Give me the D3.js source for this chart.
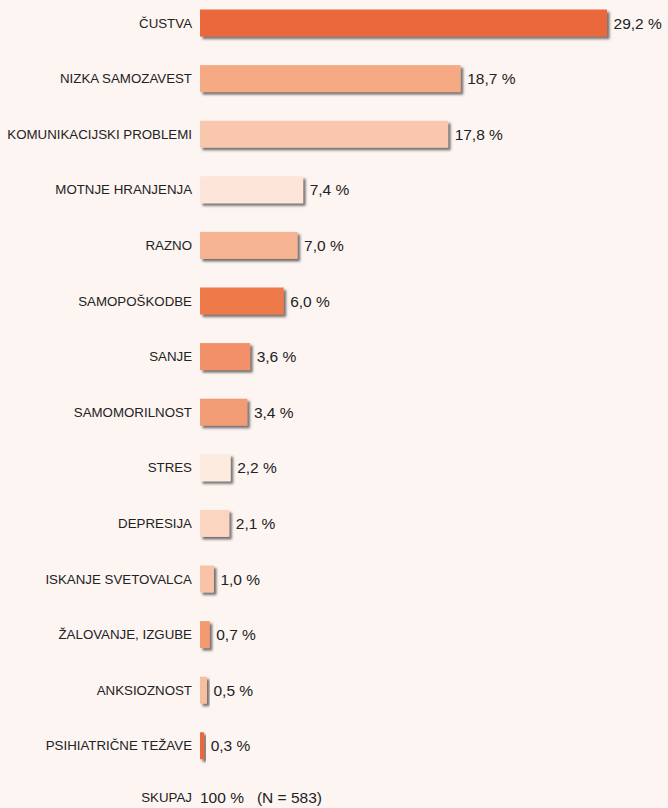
<!DOCTYPE html>
<html>
<head>
<meta charset="utf-8">
<script src="https://cdn.jsdelivr.net/npm/d3@7"></script>
<style>
  html, body { margin: 0; padding: 0; background: #fdf5f2; }
  svg { display: block; }
  text { font-family: "Liberation Sans", Arial, Helvetica, sans-serif; fill: #222; }
</style>
</head>
<body>
<svg id="chart" width="668" height="808"></svg>
<script>
// Razlogi za klic (deleži v %)
const categories = [
  "ČUSTVA", "NIZKA SAMOZAVEST", "KOMUNIKACIJSKI PROBLEMI", "MOTNJE HRANJENJA",
  "RAZNO", "SAMOPOŠKODBE", "SANJE", "SAMOMORILNOST", "STRES", "DEPRESIJA",
  "ISKANJE SVETOVALCA", "ŽALOVANJE, IZGUBE", "ANKSIOZNOST", "PSIHIATRIČNE TEŽAVE"
];
const values = [29.2, 18.7, 17.8, 7.4, 7.0, 6.0, 3.6, 3.4, 2.2, 2.1, 1.0, 0.7, 0.5, 0.3];
const colors = [
  "#eb673c", "#f5aa84", "#f9c7ae", "#fde5d9", "#f6b392", "#ee7a4a", "#f2906a",
  "#f29c76", "#fdebe0", "#fbd5c0", "#f9c3a7", "#f39a70", "#f8bf9f", "#eb673c"
];
const totalLabel = "SKUPAJ";
const totalValue = "100 %";
const totalN = "(N = 583)";

const svg = d3.select("#chart");

const defs = svg.append("defs");
const shadow = defs.append("filter")
  .attr("id", "barShadow")
  .attr("x", "-20%").attr("y", "-30%")
  .attr("width", "160%").attr("height", "180%");
shadow.append("feDropShadow")
  .attr("dx", 2.5).attr("dy", 2.5)
  .attr("stdDeviation", 1.3)
  .attr("flood-color", "#444")
  .attr("flood-opacity", 0.75);

const x = d3.scaleLinear().domain([0, 30]).range([200, 618.2]);
const y = d3.scaleBand()
  .domain(categories)
  .range([9.5, 759.3])
  .paddingInner(0.514)
  .paddingOuter(0);

const fmt = v => d3.format(".1f")(v).replace(".", ",") + " %";

const rows = svg.append("g").selectAll("g")
  .data(categories.map((c, i) => ({ c, v: values[i], col: colors[i] })))
  .join("g");

rows.append("rect")
  .attr("x", x(0))
  .attr("y", d => y(d.c))
  .attr("width", d => x(d.v) - x(0))
  .attr("height", y.bandwidth())
  .attr("fill", d => d.col)
  .attr("filter", "url(#barShadow)");

rows.append("text")
  .attr("x", x(0) - 8)
  .attr("y", d => y(d.c) + y.bandwidth() / 2)
  .attr("dy", "0.35em")
  .attr("text-anchor", "end")
  .style("font-size", "13.3px")
  .text(d => d.c);

rows.append("text")
  .attr("x", d => x(d.v) + 6.5)
  .attr("y", d => y(d.c) + y.bandwidth() / 2)
  .attr("dy", "0.36em")
  .style("font-size", "15.5px")
  .text(d => fmt(d.v));

// Skupna vrstica
const totalY = y(categories[categories.length - 1]) + y.step() + y.bandwidth() / 2 - 4;
svg.append("text")
  .attr("x", x(0) - 8)
  .attr("y", totalY)
  .attr("dy", "0.35em")
  .attr("text-anchor", "end")
  .style("font-size", "13.3px")
  .text(totalLabel);

const tot = svg.append("text")
  .attr("x", x(0))
  .attr("y", totalY)
  .attr("dy", "0.36em")
  .style("font-size", "15.5px");
tot.append("tspan").text(totalValue);
tot.append("tspan").attr("dx", 13).text(totalN);
</script>
</body>
</html>
